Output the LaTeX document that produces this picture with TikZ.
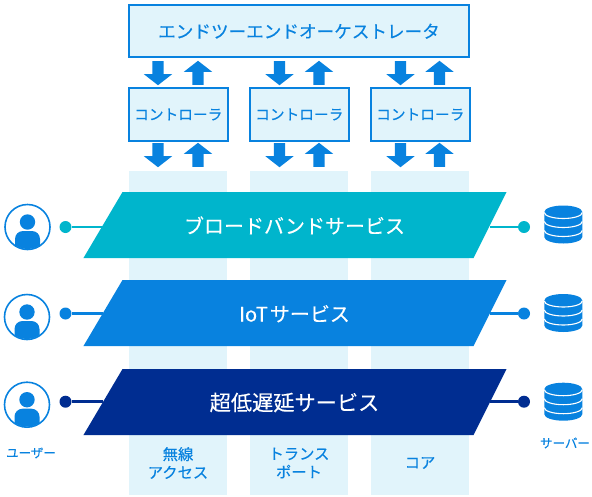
\documentclass[tikz,border=0pt]{standalone}
\usepackage{fontspec}
\setmainfont{Noto Sans CJK JP}[FakeBold=0.25]
\usepackage{xcolor}
\usetikzlibrary{arrows.meta, positioning, shapes.geometric, shapes.arrows, calc}
\definecolor{netblue}{RGB}{8, 130, 223}
\definecolor{netteal}{RGB}{0, 181, 204}
\definecolor{netnavy}{RGB}{0, 45, 145}
\definecolor{netpale}{RGB}{225, 244, 251}
\newcommand{\fsize}[1]{\fontsize{#1}{#1}\selectfont}
% x, y of the icon centre
\newcommand{\usericon}[2]{
  \fill[netblue] (#1, #2-5) circle (7.7);
  \begin{scope}
    \clip (#1, #2) circle (22);
    \fill[netblue, rounded corners=8pt] (#1-12.5, #2+30) rectangle (#1+12.5, #2+4);
  \end{scope}
}
\newcommand{\dbicon}[2]{
  \fill[netblue] (#1-19, #2-12.5) arc[start angle=180, end angle=360, x radius=19, y radius=6.5] -- (#1+19, #2+12.5) arc[start angle=0, end angle=180, x radius=19, y radius=6.5] -- cycle;
  \draw[white, line width=1.1pt] (#1-19, #2-12) arc[start angle=180, end angle=0, x radius=19, y radius=6];
  \draw[white, line width=1.1pt] (#1-19, #2-3) arc[start angle=180, end angle=0, x radius=19, y radius=6];
  \draw[white, line width=1.1pt] (#1-19, #2+6) arc[start angle=180, end angle=0, x radius=19, y radius=6];
}

\begin{document}
\begin{tikzpicture}[
  x=1pt, y=-1pt,
  every node/.style={inner sep=0pt, outer sep=0pt, align=center},
  ctrlbox/.style={draw=netblue, line width=2pt, fill=netpale, text=netblue, font=\fsize{14.7}},
  column/.style={fill=netpale, minimum width=98pt, minimum height=324pt},
  band/.style={trapezium, trapezium left angle=59.4, trapezium right angle=116.6, text width=351pt, text height=41.5pt, text depth=24.5pt, text=white},
  dot/.style={circle, minimum size=12pt},
  wire/.style={line width=2.6pt},
  usercircle/.style={circle, draw=netblue, line width=1.6pt, minimum size=45pt},
  down/.style={single arrow, fill=netblue, minimum height=24pt, text height=11pt, text depth=0pt, single arrow head extend=8.5pt, single arrow tip angle=104, rotate=-90},
  up/.style={down, rotate=180},
  tag/.style={text=netblue, font=\fsize{15.3}},
  smalltag/.style={text=netblue, font=\fsize{12.5}}
]
  \useasboundingbox (0, 0) rectangle (592, 496);

  % Columns
  \node[column] (radio) at (178, 333) {};
  \node[column] (trans) at (299, 333) {};
  \node[column] (core) at (420, 333) {};

  % Control layer
  \node[ctrlbox, minimum width=340pt, minimum height=52.5pt, font=\fsize{17.6}] (orch) at (299, 31.2) {エンドツーエンドオーケストレータ};
  \node[ctrlbox, minimum width=98.5pt, minimum height=53pt] (ctrla) at (178.3, 114.5) {コントローラ};
  \node[ctrlbox, minimum width=98.5pt, minimum height=53pt] (ctrlb) at (299.3, 114.5) {コントローラ};
  \node[ctrlbox, minimum width=98.5pt, minimum height=53pt] (ctrlc) at (420.3, 114.5) {コントローラ};

  \node[down] (adn) at (158, 71) {};
  \node[up] (aup) at (198, 75) {};
  \node[down] (bdn) at (279.5, 71) {};
  \node[up] (bup) at (319, 75) {};
  \node[down] (cdn) at (400.5, 71) {};
  \node[up] (cup) at (439.5, 75) {};
  \node[down] (aadn) at (158, 153) {};
  \node[up] (aaup) at (198, 157) {};
  \node[down] (bbdn) at (279.5, 153) {};
  \node[up] (bbup) at (319, 157) {};
  \node[down] (ccdn) at (400.5, 153) {};
  \node[up] (ccup) at (439.5, 157) {};

  % Services
  \node[band, fill=netteal, font=\fsize{20}] (broad) at (298, 225) {ブロードバンドサービス\hspace*{7pt}};
  \node[band, fill=netblue, font=\fsize{20}] (iot) at (298, 313) {IoT\hspace{2pt}サービス\hspace*{7pt}};
  \node[band, fill=netnavy, font=\fsize{21.2}] (low) at (298, 402) {超低遅延サービス\hspace*{7pt}};

  \node[usercircle] (usera) at (27.5, 227) {};
  \node[usercircle] (userb) at (27, 317) {};
  \node[usercircle] (userc) at (27, 404.7) {};
  \usericon{27.5}{227}
  \usericon{27}{317}
  \usericon{27}{404.7}

  \node[dot, fill=netteal] (dotal) at (65.5, 227) {};
  \node[dot, fill=netblue] (dotbl) at (65.5, 313.5) {};
  \node[dot, fill=netnavy] (dotcl) at (65.5, 401.7) {};
  \node[dot, fill=netteal] (dotar) at (524, 227) {};
  \node[dot, fill=netblue] (dotbr) at (524, 313.5) {};
  \node[dot, fill=netnavy] (dotcr) at (524, 401.7) {};

  \draw[wire, netteal] (dotal) -- (dotal -| broad.west);
  \draw[wire, netblue] (dotbl) -- (dotbl -| iot.west);
  \draw[wire, netnavy] (dotcl) -- (dotcl -| low.west);
  \draw[wire, netteal] (dotar) -- (dotar -| broad.east);
  \draw[wire, netblue] (dotbr) -- (dotbr -| iot.east);
  \draw[wire, netnavy] (dotcr) -- (dotcr -| low.east);

  \dbicon{563.3}{224.5}
  \dbicon{563.3}{313}
  \dbicon{563.3}{401.7}

  % Labels
  \node[smalltag] (userlabel) at (31, 453) {ユーザー};
  \node[smalltag] (serverlabel) at (565, 443) {サーバー};
  \node[tag] (radiolabel) at (178, 463) {無線\\[3pt]アクセス};
  \node[tag] (translabel) at (299, 463) {トランス\\[3pt]ポート};
  \node[tag] (corelabel) at (420, 463) {コア};

\end{tikzpicture}
\end{document}
